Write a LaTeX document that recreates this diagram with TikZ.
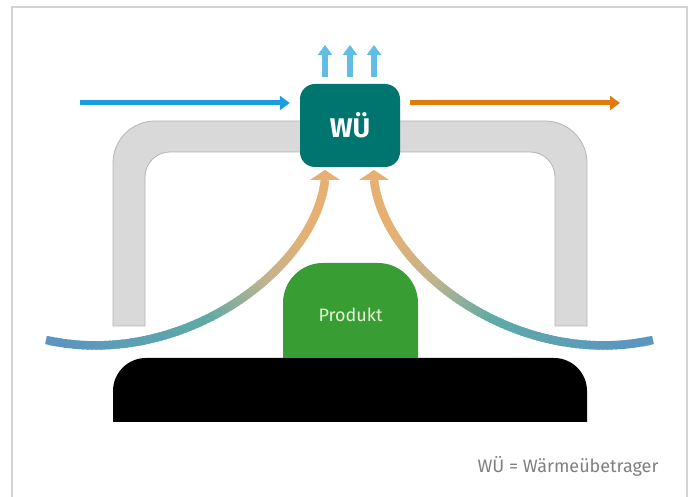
\documentclass[tikz,border=0pt]{standalone}
\usepackage{fontspec}
\setmainfont{Fira Sans}
\usetikzlibrary{arrows.meta}

\definecolor{frameGray}{HTML}{D3D3D3}
\definecolor{hoodFill}{HTML}{D9D9D9}
\definecolor{hoodLine}{HTML}{B5B5B5}
\definecolor{hxTeal}{HTML}{00756F}
\definecolor{exhaustBlue}{HTML}{62BDE6}
\definecolor{inBlue}{HTML}{1A9EE0}
\definecolor{outOrange}{HTML}{E07B0E}
\definecolor{prodGreen}{HTML}{389E34}
\definecolor{prodText}{HTML}{E6F0D8}
\definecolor{noteGray}{HTML}{7F7F7F}
\definecolor{airBlue}{HTML}{5B96C0}
\definecolor{airTeal}{HTML}{5EAAA6}
\definecolor{airTan}{HTML}{C2B48E}
\definecolor{airOrange}{HTML}{E6B072}

\tikzset{
  flowarrow/.style={line width=5pt, -{Triangle[width=14pt,length=10pt]}},
  exhaust/.style={flowarrow, exhaustBlue, line width=5.5pt, -{Triangle[width=14pt,length=10pt]}},
  airhead/.style={fill=airOrange, draw=none},
}

% warm air rising from the product: a Bezier drawn in small coloured pieces
\newcommand{\airstream}[4]{%
  \foreach \i in {0,...,89}{%
    \pgfmathsetmacro\ta{\i/90}%
    \pgfmathsetmacro\tb{min(1,(\i+1.6)/90)}%
    \pgfmathsetmacro\tm{(\i+0.5)/90}%
    \pgfmathsetmacro\pa{min(100,max(0,(\tm-0.05)/0.37*100))}%
    \pgfmathsetmacro\pb{min(100,max(0,(\tm-0.42)/0.2*100))}%
    \pgfmathsetmacro\pc{min(100,max(0,(\tm-0.62)/0.18*100))}%
    \colorlet{segA}{airTeal!\pa!airBlue}%
    \colorlet{segB}{airTan!\pb!segA}%
    \colorlet{segC}{airOrange!\pc!segB}%
    \path #1 .. controls #2 and #3 .. #4
      coordinate[pos=\ta] (s) coordinate[pos=\tb] (e);
    \draw[segC, line width=8.5pt, line cap=butt] (s) -- (e);
  }%
}

\begin{document}
\begin{tikzpicture}[x=1pt, y=1pt]
  \useasboundingbox (0,0) rectangle (691,497);

  % outer frame
  \draw[frameGray, line width=1.5pt] (12,-10) -- (12,490) -- (687,490) -- (687,-10);

  % hood (inverted U duct)
  \draw[fill=hoodFill, draw=hoodLine, line width=0.8pt]
    (113,171) -- (113,334) arc[start angle=180, end angle=90, radius=42]
    -- (545,376) arc[start angle=90, end angle=0, radius=42]
    -- (587,171) -- (555,171) -- (555,320)
    arc[start angle=0, end angle=90, radius=25]
    -- (170,345) arc[start angle=90, end angle=180, radius=25]
    -- (145,171) -- cycle;

  % base plate
  \fill[black] (113,75) -- (113,106) arc[start angle=180, end angle=90, radius=33]
    -- (554,139) arc[start angle=90, end angle=0, radius=33] -- (587,75) -- cycle;
  \node[inner sep=0pt, minimum width=474pt, minimum height=64pt] (base) at (350,107) {};

  % product
  \fill[prodGreen] (283,139) -- (283,194) arc[start angle=180, end angle=90, radius=40]
    -- (378,234) arc[start angle=90, end angle=0, radius=40] -- (418,139) -- cycle;
  \node[text=prodText, font=\fontsize{18}{21}\selectfont] (prod) at (350.5,182) {Produkt};

  % heat exchanger
  \node[fill=hxTeal, rounded corners=15pt, minimum width=100pt, minimum height=83pt,
        inner sep=0pt, text=white, font=\fontsize{27}{30}\selectfont\bfseries]
        (hx) at (350,371.5) {WÜ};

  % exhaust air above the exchanger
  \foreach \xx/\nm in {325/ex1, 350/ex2, 374/ex3}{
    \coordinate (\nm) at (\xx,452);
    \draw[exhaust] (\xx,0 |- hx.north) ++(0,7) -- (\nm);
  }

  % supply and return lines
  \coordinate (inStart) at (80,394);
  \coordinate (outEnd) at (620,394);
  \draw[flowarrow, inBlue] (inStart) -- ([xshift=-10pt]hx.west |- inStart);
  \draw[flowarrow, outOrange] ([xshift=10pt]hx.east |- outEnd) -- (outEnd);

  % rising warm air
  \airstream{(46,157)}{(180,127)}{(315,227)}{(325,317)}
  \airstream{(653,157)}{(519,127)}{(384,227)}{(374,317)}
  \fill[airhead] (310,317) -- (325,327) -- (340,317) -- cycle;
  \fill[airhead] (359,317) -- (374,327) -- (389,317) -- cycle;

  % legend
  \node[anchor=base east, text=noteGray, font=\fontsize{18}{21}\selectfont] (note)
    at (662,24) {WÜ = Wärmeübetrager};
\end{tikzpicture}
\end{document}
